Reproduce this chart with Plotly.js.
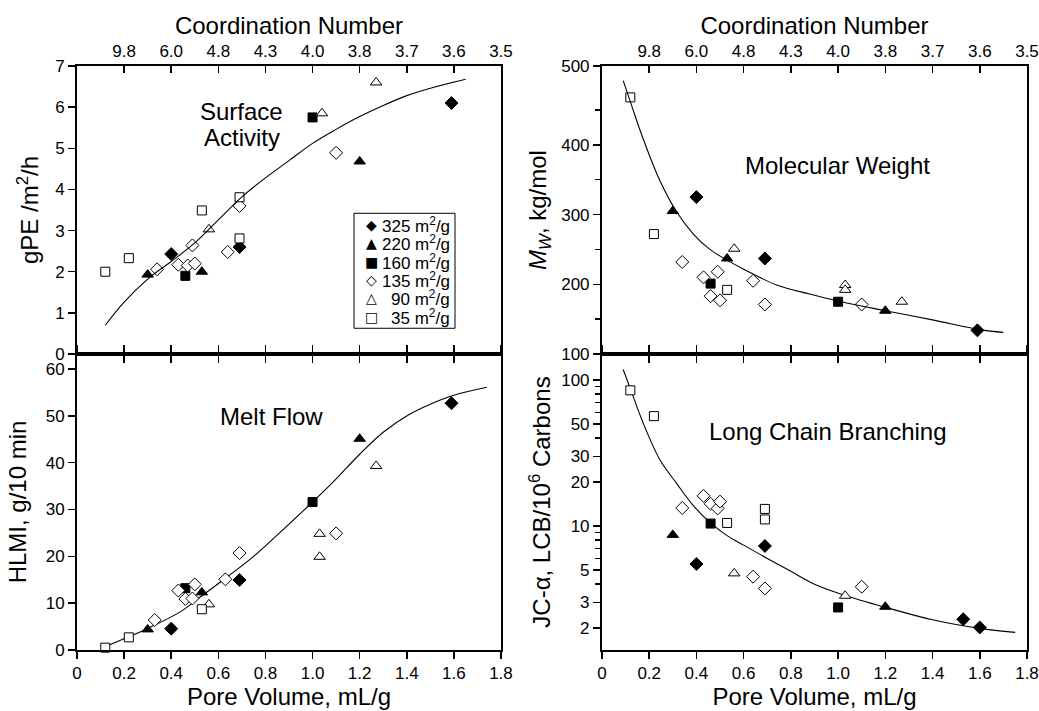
<!DOCTYPE html>
<html><head><meta charset="utf-8">
<script src="https://cdn.plot.ly/plotly-3.0.1.min.js"></script>
<style>html,body{margin:0;padding:0;background:#fff}#chart{width:1039px;height:711px}</style>
</head><body><div id="chart"></div>
<script>
// ---------- data ----------
const seriesNames = ['325 m<sup>2</sup>/g','220 m<sup>2</sup>/g','160 m<sup>2</sup>/g','135 m<sup>2</sup>/g','90 m<sup>2</sup>/g','35 m<sup>2</sup>/g'];
const legendGlyphs = ['\u25C6','\u25B2','\u25A0','\u25C7','\u25B3','\u25A1'];

const pvTicks = [0,0.2,0.4,0.6,0.8,1.0,1.2,1.4,1.6,1.8];
const pvLabels = ['0','0.2','0.4','0.6','0.8','1.0','1.2','1.4','1.6','1.8'];
const cnTicks = [0.2,0.4,0.6,0.8,1.0,1.2,1.4,1.6,1.8];
const cnLabels = ['9.8','6.0','4.8','4.3','4.0','3.8','3.7','3.6','3.5'];

// Surface activity (gPE/m2/h)
const sa325x = [0.40,0.69,1.59], sa325y = [2.43,2.60,6.10];
const sa220x = [0.30,0.53,1.20], sa220y = [1.93,2.00,4.68];
const sa160x = [0.46,1.00], sa160y = [1.90,5.75];
const sa135x = [0.34,0.43,0.47,0.50,0.49,0.64,0.69,1.10], sa135y = [2.06,2.17,2.15,2.20,2.64,2.48,3.60,4.89];
const sa90x = [0.56,1.04,1.27], sa90y = [3.03,5.85,6.60];
const sa35x = [0.12,0.22,0.53,0.69,0.69], sa35y = [2.00,2.33,3.49,3.81,2.81];
const saFitX = [0.12,0.2,0.3,0.4,0.5,0.6,0.7,0.8,0.9,1.0,1.1,1.2,1.3,1.4,1.5,1.65];
const saFitY = [0.70,1.26,1.82,2.25,2.70,3.26,3.82,4.28,4.70,5.12,5.46,5.77,6.04,6.28,6.46,6.68];

// Melt flow (HLMI, g/10 min)
const hl325x = [0.40,0.69,1.59], hl325y = [4.55,14.95,52.7];
const hl220x = [0.30,0.53,1.20], hl220y = [4.4,12.3,45.1];
const hl160x = [0.46,1.00], hl160y = [13.2,31.6];
const hl135x = [0.33,0.43,0.46,0.49,0.50,0.63,0.69,1.10], hl135y = [6.4,12.7,10.9,11.0,14.0,15.1,20.7,24.9];
const hl90x = [0.56,1.03,1.03,1.27], hl90y = [9.75,24.8,19.9,39.3];
const hl35x = [0.12,0.22,0.53], hl35y = [0.5,2.7,8.7];
const hlFitX = [0.11,0.21,0.30,0.44,0.52,0.64,0.75,0.86,1.0,1.09,1.2,1.3,1.41,1.5,1.6,1.74];
const hlFitY = [0.5,2.6,4.6,8.2,11.2,15.7,20.0,25.0,31.6,36.0,41.8,46.5,50.3,52.5,54.4,56.1];

// Molecular weight (kg/mol)
const mw325x = [0.40,0.69,1.59], mw325y = [325,237,134];
const mw220x = [0.30,0.53,1.20], mw220y = [305,237,162];
const mw160x = [0.46,1.00], mw160y = [201,175];
const mw135x = [0.34,0.43,0.49,0.46,0.50,0.64,0.69,1.10], mw135y = [232,210,218,183,177,205,171,171];
const mw90x = [0.56,1.03,1.03,1.27], mw90y = [251,199,192,175];
const mw35x = [0.12,0.22,0.53], mw35y = [468,272,192];
const mwFitX = [0.09,0.12,0.175,0.246,0.316,0.387,0.457,0.528,0.598,0.74,0.88,1.0,1.2,1.4,1.6,1.7];
const mwFitY = [492,462,408,348,304,272,250,235,222,199,186,176,162,149,135,131];

// Long chain branching (LCB/10^6 C)
const lc325x = [0.40,0.69,1.53,1.60], lc325y = [5.5,7.3,2.3,2.02];
const lc220x = [0.30,1.20], lc220y = [8.7,2.8];
const lc160x = [0.46,1.00], lc160y = [10.4,2.77];
const lc135x = [0.34,0.43,0.46,0.49,0.50,0.64,0.69,1.10], lc135y = [13.3,16.1,14.2,13.2,14.7,4.5,3.74,3.84];
const lc90x = [0.56,1.03], lc90y = [4.74,3.33];
const lc35x = [0.12,0.22,0.53,0.69,0.69], lc35y = [85,56.6,10.5,13.1,11.1];
const lcFitX = [0.09,0.125,0.175,0.246,0.316,0.387,0.457,0.53,0.6,0.7,0.8,0.9,1.03,1.2,1.4,1.6,1.75];
const lcFitY = [118,83,50.5,28.3,19.6,13.8,10.6,8.6,7.4,6.0,4.9,4.0,3.35,2.78,2.28,1.99,1.87];

// ---------- styles ----------
const FONT = 'Liberation Sans, Arial, Helvetica, sans-serif';
const markerStyles = [
  {symbol:'diamond', size:10, color:'#000', line:{color:'#000', width:1}},
  {symbol:'triangle-up', size:10, color:'#000', line:{color:'#000', width:1}},
  {symbol:'square', size:9, color:'#000', line:{color:'#000', width:1}},
  {symbol:'diamond', size:10, color:'#fff', line:{color:'#000', width:1}},
  {symbol:'triangle-up', size:10, color:'#fff', line:{color:'#000', width:1}},
  {symbol:'square', size:9, color:'#fff', line:{color:'#000', width:1}}
];

// top panels draw their fit curve on the top (coordination-number) axis, same 0-1.8 scale
const panels = [
  {fxa:'x5', xa:'x', ya:'y', fit:[saFitX,saFitY], s:[[sa325x,sa325y],[sa220x,sa220y],[sa160x,sa160y],[sa135x,sa135y],[sa90x,sa90y],[sa35x,sa35y]]},
  {fxa:'x2', xa:'x2', ya:'y2', fit:[hlFitX,hlFitY], s:[[hl325x,hl325y],[hl220x,hl220y],[hl160x,hl160y],[hl135x,hl135y],[hl90x,hl90y],[hl35x,hl35y]]},
  {fxa:'x6', xa:'x3', ya:'y3', fit:[mwFitX,mwFitY], s:[[mw325x,mw325y],[mw220x,mw220y],[mw160x,mw160y],[mw135x,mw135y],[mw90x,mw90y],[mw35x,mw35y]]},
  {fxa:'x4', xa:'x4', ya:'y4', fit:[lcFitX,lcFitY], s:[[lc325x,lc325y],[lc220x,lc220y],[lc160x,lc160y],[lc135x,lc135y],[lc90x,lc90y],[lc35x,lc35y]]}
];

const traces = [];
panels.forEach(p => {
  traces.push({x:p.fit[0], y:p.fit[1], xaxis:p.fxa, yaxis:p.ya, type:'scatter', mode:'lines',
    line:{color:'#000', width:1.1, shape:'spline', smoothing:1}, showlegend:false, hoverinfo:'skip'});
});
panels.forEach(p => {
  p.s.forEach((d,i) => {
    traces.push({x:d[0], y:d[1], xaxis:p.xa, yaxis:p.ya, type:'scatter', mode:'markers',
      name:seriesNames[i], marker:markerStyles[i], showlegend:false, cliponaxis:false});
  });
});

function ax(extra){
  return Object.assign({showline:true, linewidth:2, linecolor:'#000', showgrid:false, zeroline:false,
    ticks:'outside', ticklen:7, tickwidth:1.5, tickcolor:'#000', automargin:false,
    tickfont:{family:FONT, size:17, color:'#000'}}, extra);
}
const titleFont = {family:FONT, size:24, color:'#000'};
const LX = [0, 0.4463], RX = [0.5526, 1], TY = [0.5068, 1], BY = [0, 0.5068];

const layout = {
  width:1039, height:711, paper_bgcolor:'#fff', plot_bgcolor:'#fff',
  margin:{l:77, r:12, t:66, b:61}, showlegend:false,
  font:{family:FONT, color:'#000'},
  xaxis: ax({domain:LX, anchor:'y', range:[0,1.8], tickvals:cnTicks.slice(0,8), showticklabels:false}),
  xaxis5: ax({domain:LX, overlaying:'x', anchor:'y', side:'top', range:[0,1.8], tickvals:cnTicks, ticktext:cnLabels, ticks:'inside',
    title:{text:'Coordination Number', font:titleFont, standoff:1}}),
  yaxis: ax({domain:TY, anchor:'x', range:[0,7], tickvals:[0,1,2,3,4,5,6,7], mirror:true,
    title:{text:'gPE /m<sup>2</sup>/h', font:titleFont, standoff:10}}),
  xaxis2: ax({domain:LX, anchor:'y2', range:[0,1.8], tickvals:pvTicks, ticktext:pvLabels, mirror:'ticks',
    title:{text:'Pore Volume, mL/g', font:titleFont, standoff:1}}),
  yaxis2: ax({domain:BY, anchor:'x2', range:[0,63.2], tickvals:[0,10,20,30,40,50,60], mirror:true,
    title:{text:'HLMI, g/10 min', font:titleFont, standoff:12}}),
  xaxis3: ax({domain:RX, anchor:'y3', range:[0,1.8], tickvals:cnTicks.slice(0,8), showticklabels:false}),
  xaxis6: ax({domain:RX, overlaying:'x3', anchor:'y3', side:'top', range:[0,1.8], tickvals:cnTicks, ticktext:cnLabels, ticks:'inside',
    title:{text:'Coordination Number', font:titleFont, standoff:1}}),
  yaxis3: ax({domain:TY, anchor:'x3', range:[100,513], tickvals:[100,200,300,400,513], ticktext:['100','200','300','400','500'], mirror:true,
    minor:{tickvals:[150,250,350,450], ticks:'outside', ticklen:5, tickwidth:1.5, tickcolor:'#000'},
    title:{text:'<i>M<sub>W</sub></i>, kg/mol', font:titleFont, standoff:8}}),
  xaxis4: ax({domain:RX, anchor:'y4', range:[0,1.8], tickvals:pvTicks, ticktext:pvLabels, mirror:'ticks',
    title:{text:'Pore Volume, mL/g', font:titleFont, standoff:1}}),
  yaxis4: ax({domain:BY, anchor:'x4', type:'log', range:[Math.log10(1.416), Math.log10(150.7)],
    tickvals:[2,3,5,10,20,30,50,100], ticktext:['2','3','5','10','20','30','50','100'], mirror:true,
    minor:{tickvals:[4,6,7,8,9,40,60,70,80,90], ticks:'outside', ticklen:5, tickwidth:1.5, tickcolor:'#000'},
    title:{text:'JC-\u03B1, LCB/10<sup>6</sup> Carbons', font:titleFont, standoff:4}}),
  shapes:[{type:'rect', xref:'paper', yref:'paper', x0:0.2916, x1:0.3979, y0:0.5509, y1:0.7478,
    line:{color:'#000', width:1}, fillcolor:'#fff', layer:'above'}],
  annotations:[]
};

const panelLabels = [
  {text:'Surface', x:0.1734, y:0.9220},
  {text:'Activity', x:0.1734, y:0.8770},
  {text:'Melt Flow', x:0.2049, y:0.3990},
  {text:'Molecular Weight', x:0.8010, y:0.8288},
  {text:'Long Chain Branching', x:0.7900, y:0.3733}
];
panelLabels.forEach(a => layout.annotations.push({xref:'paper', yref:'paper', x:a.x, y:a.y, text:a.text,
  showarrow:false, xanchor:'center', yanchor:'middle', font:{family:FONT, size:24, color:'#000'}}));

const legendRowY = [0.7277,0.6964,0.6649,0.6336,0.6022,0.5707];
seriesNames.forEach((n,i) => {
  layout.annotations.push({xref:'paper', yref:'paper', x:0.3105, y:legendRowY[i], text:legendGlyphs[i],
    showarrow:false, xanchor:'center', yanchor:'middle', font:{family:'DejaVu Sans', size:14, color:'#000'}});
  layout.annotations.push({xref:'paper', yref:'paper', x:0.3947, y:legendRowY[i], text:n,
    showarrow:false, xanchor:'right', yanchor:'middle', font:{family:FONT, size:17, color:'#000'}});
});

Plotly.newPlot('chart', traces, layout, {displayModeBar:false, staticPlot:true});
</script></body></html>
